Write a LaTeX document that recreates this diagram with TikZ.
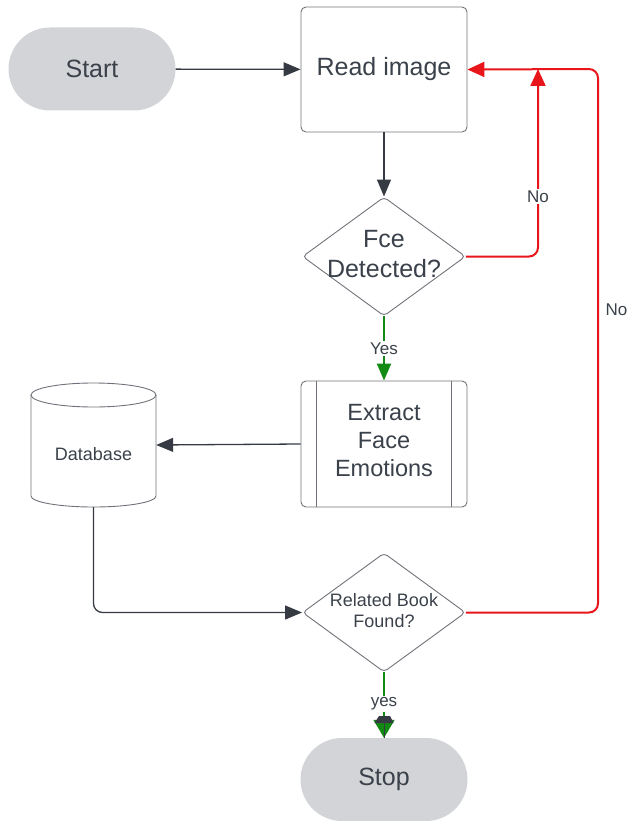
\documentclass[tikz,border=0pt]{standalone}
\usepackage{fontspec}
\setmainfont{Liberation Sans}
\usetikzlibrary{shapes.geometric,arrows.meta,calc}
\definecolor{ink}{HTML}{3A414A}
\definecolor{edge}{HTML}{6F7379}
\definecolor{pill}{HTML}{D3D4D7}
\definecolor{nored}{HTML}{E8161B}
\definecolor{yesgreen}{HTML}{138A13}
\definecolor{flow}{HTML}{363B43}
\begin{document}
\begin{tikzpicture}[x=1pt,y=-1pt,
  every node/.style={text=ink, align=center},
  big/.style={font=\fontsize{25}{30}\selectfont},
  mid/.style={font=\fontsize{23.5}{28}\selectfont},
  small/.style={font=\fontsize{18}{21}\selectfont},
  terminal/.style={fill=pill, rounded corners=41.5pt, minimum width=167pt, minimum height=83pt, inner sep=0pt, big},
  process/.style={draw=edge, line width=0.9pt, rounded corners=5pt, minimum width=166pt, minimum height=125pt, inner sep=0pt},
  decision/.style={diamond, draw=edge, line width=0.9pt, rounded corners=4pt, minimum width=163pt, minimum height=119pt, inner sep=0pt},
  shapeline/.style={draw=edge, line width=0.9pt},
  tipstyle/.style={-{Triangle[length=17pt,width=14pt]}},
  flowline/.style={draw=flow, line width=1.3pt, tipstyle},
  noline/.style={draw=nored, line width=2pt, rounded corners=9pt, -{Triangle[length=17pt,width=15pt]}},
  yesline/.style={draw=yesgreen, line width=2pt, tipstyle},
  lbl/.style={fill=white, font=\fontsize{17}{20}\selectfont, inner sep=1.5pt}
]
\useasboundingbox (0,0) rectangle (632,821);

% terminals and process steps
\node[terminal] (start) at (92,69) {Start};
\node[process, big] (read) at (384,69.5) {Read image};
\node[decision] (d1) at (384,256.5) {};
\node[big] (d1text) at (384,254) {Fce\\Detected?};
\node[process, minimum height=126pt] (extract) at (384,444) {};
\node[mid] (extracttext) at (384,441) {Extract\\Face\\Emotions};
\draw[shapeline] ([xshift=16pt]extract.north west) -- ([xshift=16pt]extract.south west);
\draw[shapeline] ([xshift=-16pt]extract.north east) -- ([xshift=-16pt]extract.south east);
\node[decision] (d2) at (384,612.5) {};
\node[small] (d2text) at (384,610.5) {Related Book\\Found?};
\node[terminal] (stop) at (384,779.5) {Stop};

% database cylinder
\node[minimum width=125pt, minimum height=124pt, inner sep=0pt] (db) at (93.5,445) {};
\draw[shapeline] (31,395) -- (31,496) arc[start angle=180, end angle=360, x radius=62.5pt, y radius=11pt] -- (156,395);
\draw[shapeline] (93.5,395) ellipse[x radius=62.5pt, y radius=12pt];
\node[small] (dbtext) at (93.5,454) {Database};

% loop-back junctions
\coordinate (j1) at (538,69);
\coordinate (j2) at (598,69);

% connectors
\draw[flowline] (start) -- (read);
\draw[flowline] (read) -- (d1);
\draw[noline] (d2.east) -| (j2) -- (read.east);
\node[lbl, fill=none, anchor=west] (no2) at (604,310) {No};
\draw[noline] (d1.east) -| (j1) node[lbl, pos=0.66] (no1) {No};
\draw[yesline] (d1.south) -- node[lbl] (yes1) {Yes} (extract.north);
\draw[flowline] (extract.west) -- (db.east);
\draw[flowline, rounded corners=9pt] (db.south) |- (d2.west);
\draw[yesline, -{Triangle[length=18pt,width=21pt]}] (d2.south) -- node[lbl, pos=0.48] (yes2) {yes} (stop.north);
% dark cap over the final arrowhead
\fill[flow] (379,716) -- (390,716) -- (393.5,723) -- (374.5,723) -- cycle;
\draw[flow, line width=1pt] (384,723) -- (384,738);
\end{tikzpicture}
\end{document}
